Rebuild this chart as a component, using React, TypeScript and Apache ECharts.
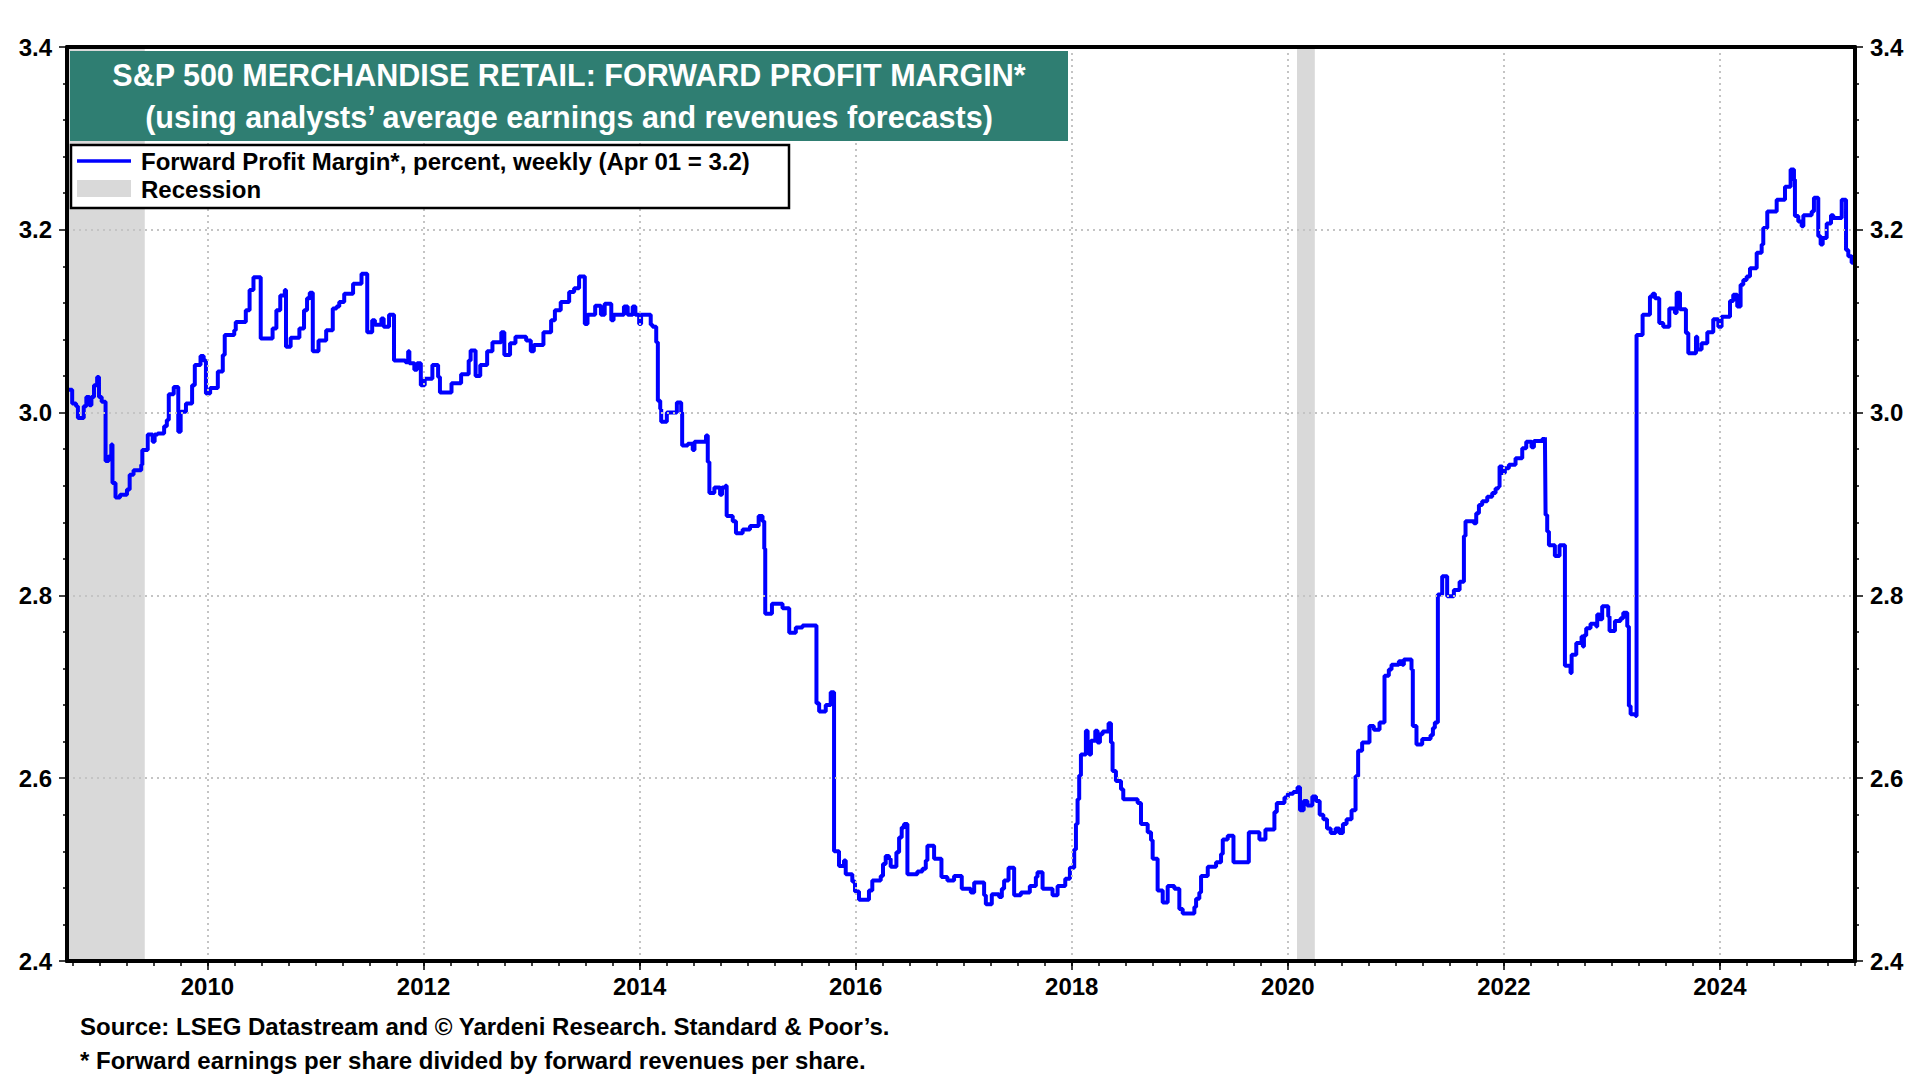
import { useEffect, useRef } from 'react'
import * as echarts from 'echarts'

// weekly observations, position given as fractional year (each point = start of a level)
const weeks = [
  2008.7, 2008.748, 2008.784, 2008.801, 2008.855, 2008.879, 2008.908, 2008.926, 2008.95, 2008.979,
  2008.996, 2009.021, 2009.057, 2009.085, 2009.11, 2009.121, 2009.149, 2009.191, 2009.255, 2009.28,
  2009.316, 2009.387, 2009.397, 2009.447, 2009.493, 2009.511, 2009.539, 2009.599, 2009.624, 2009.642,
  2009.688, 2009.73, 2009.752, 2009.801, 2009.858, 2009.883, 2009.936, 2009.965, 2009.986, 2010.025,
  2010.096, 2010.142, 2010.16, 2010.248, 2010.262, 2010.355, 2010.39, 2010.426, 2010.493, 2010.603,
  2010.638, 2010.674, 2010.716, 2010.727, 2010.77, 2010.851, 2010.894, 2010.922, 2010.947, 2010.975,
  2011.028, 2011.099, 2011.16, 2011.195, 2011.22, 2011.266, 2011.348, 2011.426, 2011.479, 2011.525,
  2011.55, 2011.61, 2011.631, 2011.681, 2011.727, 2011.833, 2011.858, 2011.869, 2011.915, 2011.94,
  2011.975, 2012.011, 2012.082, 2012.135, 2012.152, 2012.259, 2012.348, 2012.418, 2012.436, 2012.482,
  2012.525, 2012.589, 2012.638, 2012.72, 2012.748, 2012.801, 2012.851, 2012.95, 2012.993, 2013.021,
  2013.11, 2013.181, 2013.216, 2013.27, 2013.348, 2013.394, 2013.44, 2013.493, 2013.518, 2013.589,
  2013.642, 2013.677, 2013.738, 2013.759, 2013.855, 2013.89, 2013.936, 2013.961, 2013.996, 2014.014,
  2014.103, 2014.12, 2014.154, 2014.169, 2014.191, 2014.2, 2014.252, 2014.345, 2014.385, 2014.394,
  2014.446, 2014.492, 2014.508, 2014.615, 2014.631, 2014.646, 2014.692, 2014.745, 2014.763, 2014.794,
  2014.806, 2014.862, 2014.892, 2014.954, 2015.022, 2015.102, 2015.138, 2015.154, 2015.163, 2015.225,
  2015.323, 2015.385, 2015.446, 2015.508, 2015.637, 2015.662, 2015.723, 2015.769, 2015.8, 2015.846,
  2015.892, 2015.908, 2015.969, 2015.994, 2016.031, 2016.123, 2016.154, 2016.232, 2016.253, 2016.278,
  2016.309, 2016.324, 2016.377, 2016.402, 2016.426, 2016.448, 2016.479, 2016.571, 2016.618, 2016.649,
  2016.664, 2016.726, 2016.794, 2016.849, 2016.911, 2016.982, 2017.066, 2017.097, 2017.189, 2017.205,
  2017.26, 2017.328, 2017.353, 2017.374, 2017.415, 2017.467, 2017.529, 2017.612, 2017.668, 2017.683,
  2017.73, 2017.822, 2017.869, 2017.94, 2017.983, 2018.023, 2018.039, 2018.054, 2018.069, 2018.085,
  2018.131, 2018.147, 2018.162, 2018.178, 2018.218, 2018.239, 2018.261, 2018.286, 2018.341, 2018.363,
  2018.378, 2018.409, 2018.456, 2018.477, 2018.61, 2018.641, 2018.703, 2018.734, 2018.749, 2018.795,
  2018.842, 2018.888, 2018.95, 2018.996, 2019.027, 2019.135, 2019.151, 2019.181, 2019.197, 2019.259,
  2019.336, 2019.382, 2019.398, 2019.444, 2019.497, 2019.639, 2019.737, 2019.793, 2019.876, 2019.898,
  2019.969, 2020.0, 2020.05, 2020.09, 2020.113, 2020.147, 2020.181, 2020.227, 2020.261, 2020.295,
  2020.329, 2020.363, 2020.397, 2020.442, 2020.476, 2020.51, 2020.544, 2020.59, 2020.627, 2020.651,
  2020.688, 2020.756, 2020.796, 2020.849, 2020.895, 2020.935, 2020.96, 2021.028, 2021.059, 2021.074,
  2021.145, 2021.157, 2021.191, 2021.244, 2021.321, 2021.343, 2021.361, 2021.389, 2021.429, 2021.475,
  2021.537, 2021.59, 2021.63, 2021.645, 2021.722, 2021.744, 2021.769, 2021.799, 2021.846, 2021.892,
  2021.923, 2021.948, 2021.96, 2021.985, 2022.009, 2022.046, 2022.108, 2022.17, 2022.207, 2022.256,
  2022.278, 2022.355, 2022.38, 2022.386, 2022.401, 2022.417, 2022.472, 2022.515, 2022.565, 2022.617,
  2022.627, 2022.67, 2022.719, 2022.731, 2022.741, 2022.762, 2022.802, 2022.855, 2022.864, 2022.886,
  2022.91, 2022.966, 2022.978, 2023.028, 2023.08, 2023.105, 2023.142, 2023.157, 2023.173, 2023.219,
  2023.228, 2023.284, 2023.352, 2023.377, 2023.398, 2023.438, 2023.475, 2023.531, 2023.583, 2023.599,
  2023.63, 2023.685, 2023.707, 2023.778, 2023.79, 2023.83, 2023.883, 2023.938, 2023.985, 2024.015,
  2024.093, 2024.123, 2024.16, 2024.191, 2024.216, 2024.247, 2024.278, 2024.34, 2024.386, 2024.401,
  2024.438, 2024.525, 2024.602, 2024.654, 2024.685, 2024.694, 2024.725, 2024.756, 2024.772, 2024.849,
  2024.87, 2024.91, 2024.932, 2024.951, 2024.988, 2025.028, 2025.049, 2025.127, 2025.167, 2025.188,
  2025.219, 2025.235, 2025.25,
]

// forward profit margin, percent
const margin = [
  3.025, 3.01, 3.007, 2.994, 3.007, 3.017, 3.008, 3.017, 3.03, 3.039,
  3.017, 3.012, 2.947, 2.952, 2.965, 2.923, 2.907, 2.91, 2.916, 2.932,
  2.937, 2.943, 2.959, 2.976, 2.968, 2.976, 2.977, 2.985, 2.992, 3.02,
  3.028, 2.979, 3.001, 3.01, 3.03, 3.052, 3.062, 3.057, 3.021, 3.027,
  3.045, 3.063, 3.085, 3.09, 3.099, 3.112, 3.134, 3.148, 3.081, 3.092,
  3.112, 3.128, 3.134, 3.072, 3.082, 3.092, 3.112, 3.125, 3.131, 3.067,
  3.079, 3.09, 3.114, 3.116, 3.121, 3.13, 3.141, 3.152, 3.088, 3.101,
  3.096, 3.103, 3.094, 3.107, 3.057, 3.055, 3.067, 3.054, 3.047, 3.054,
  3.03, 3.037, 3.052, 3.039, 3.022, 3.032, 3.042, 3.057, 3.068, 3.04,
  3.052, 3.067, 3.077, 3.088, 3.063, 3.076, 3.083, 3.079, 3.067, 3.074,
  3.088, 3.101, 3.112, 3.121, 3.132, 3.136, 3.149, 3.097, 3.107, 3.117,
  3.107, 3.119, 3.101, 3.107, 3.116, 3.107, 3.116, 3.107, 3.097, 3.107,
  3.096, 3.094, 3.077, 3.013, 3.004, 2.99, 3.0, 3.011, 3.0, 2.964,
  2.966, 2.959, 2.968, 2.975, 2.946, 2.912, 2.918, 2.91, 2.918, 2.92,
  2.887, 2.881, 2.868, 2.872, 2.876, 2.887, 2.881, 2.851, 2.78, 2.791,
  2.786, 2.759, 2.765, 2.767, 2.682, 2.673, 2.68, 2.694, 2.52, 2.504,
  2.51, 2.495, 2.487, 2.476, 2.467, 2.477, 2.488, 2.493, 2.506, 2.515,
  2.512, 2.503, 2.519, 2.535, 2.546, 2.55, 2.495, 2.498, 2.501, 2.51,
  2.526, 2.512, 2.492, 2.488, 2.493, 2.479, 2.475, 2.486, 2.472, 2.462,
  2.473, 2.47, 2.479, 2.488, 2.502, 2.472, 2.475, 2.482, 2.492, 2.497,
  2.479, 2.472, 2.482, 2.49, 2.502, 2.522, 2.55, 2.577, 2.603, 2.626,
  2.652, 2.639, 2.626, 2.641, 2.652, 2.639, 2.648, 2.651, 2.66, 2.639,
  2.608, 2.597, 2.588, 2.577, 2.573, 2.55, 2.541, 2.532, 2.512, 2.477,
  2.464, 2.482, 2.479, 2.457, 2.452, 2.459, 2.468, 2.475, 2.493, 2.503,
  2.508, 2.517, 2.533, 2.537, 2.508, 2.541, 2.533, 2.544, 2.563, 2.573,
  2.579, 2.583, 2.585, 2.59, 2.565, 2.575, 2.57, 2.58, 2.575, 2.56,
  2.555, 2.545, 2.54, 2.545, 2.54, 2.55, 2.555, 2.565, 2.602, 2.63,
  2.639, 2.657, 2.653, 2.661, 2.712, 2.719, 2.724, 2.728, 2.724, 2.73,
  2.719, 2.657, 2.637, 2.643, 2.647, 2.655, 2.661, 2.801, 2.821, 2.799,
  2.806, 2.815, 2.865, 2.881, 2.879, 2.89, 2.899, 2.903, 2.908, 2.912,
  2.917, 2.919, 2.941, 2.934, 2.939, 2.943, 2.95, 2.961, 2.968, 2.962,
  2.969, 2.971, 2.973, 2.888, 2.87, 2.855, 2.843, 2.855, 2.723, 2.715,
  2.735, 2.748, 2.755, 2.744, 2.756, 2.764, 2.769, 2.766, 2.779, 2.774,
  2.788, 2.777, 2.761, 2.772, 2.775, 2.781, 2.766, 2.679, 2.67, 2.668,
  3.085, 3.107, 3.127, 3.13, 3.125, 3.098, 3.094, 3.114, 3.109, 3.131,
  3.113, 3.087, 3.065, 3.083, 3.069, 3.076, 3.088, 3.102, 3.094, 3.105,
  3.122, 3.129, 3.116, 3.14, 3.145, 3.149, 3.158, 3.175, 3.184, 3.202,
  3.22, 3.233, 3.247, 3.266, 3.255, 3.215, 3.209, 3.204, 3.216, 3.22,
  3.235, 3.193, 3.184, 3.191, 3.207, 3.216, 3.213, 3.233, 3.178, 3.171,
  3.164, 3.171, 3.171,
]

// recession periods (fractional years)
const recessions = [
  [2008.7, 2009.42],
  [2020.085, 2020.25],
]

const yearLabels = [2010, 2012, 2014, 2016, 2018, 2020, 2022, 2024]
const yTicks = [2.4, 2.6, 2.8, 3.0, 3.2, 3.4]

const X_MIN = 2008.7
const X_MAX = 2025.25

const quarterTicks: number[] = []
for (let q = 2008.75; q <= X_MAX + 1e-6; q += 0.25) quarterTicks.push(Math.round(q * 100) / 100)

const FONT = '"Liberation Sans", Arial, Helvetica, sans-serif'
const GRID_LINE = { color: '#c4c4c4', width: 2, type: [2, 4] as number[] }
const TICK = { color: '#000', width: 1.5 }
const AXIS_LINE = { show: true, onZero: false, lineStyle: { color: '#000', width: 4 } }
const LABEL = { color: '#000', fontSize: 24, fontWeight: 'bold' as const, fontFamily: FONT }

function yAxisFor(position: 'left' | 'right') {
  return {
    type: 'value',
    position,
    min: yTicks[0],
    max: yTicks[yTicks.length - 1],
    interval: 0.2,
    z: 4,
    axisLine: AXIS_LINE,
    axisTick: { show: true, length: 8, lineStyle: TICK },
    minorTick: { show: true, splitNumber: 5, length: 4, lineStyle: TICK },
    axisLabel: { ...LABEL, margin: 15, formatter: (v: number) => v.toFixed(1) },
    splitLine: { show: position === 'left', lineStyle: GRID_LINE },
  }
}

export default function App() {
  const chartRef = useRef<HTMLDivElement>(null)

  useEffect(() => {
    if (!chartRef.current) return
    const chart = echarts.init(chartRef.current, null, { renderer: 'svg' })

    const text = (t: string, x: number, y: number, size: number, fill = '#000', align = 'left') => ({
      type: 'text',
      x,
      y,
      z: 102,
      style: {
        text: t,
        fill,
        font: `bold ${size}px ${FONT}`,
        textAlign: align,
        textVerticalAlign: 'middle',
      },
    })

    chart.setOption({
      animation: false,
      backgroundColor: '#fff',
      textStyle: { fontFamily: FONT },
      grid: { left: 67, right: 65, top: 47, bottom: 119 },
      xAxis: [
        {
          type: 'value',
          min: X_MIN,
          max: X_MAX,
          interval: 2,
          z: 4,
          axisLine: AXIS_LINE,
          axisTick: { show: true, length: 9, lineStyle: TICK, customValues: yearLabels },
          axisLabel: {
            ...LABEL,
            margin: 13,
            customValues: yearLabels,
            formatter: (v: number) => (Number.isInteger(v) ? String(v) : ''),
          },
          splitLine: { show: true, lineStyle: GRID_LINE },
        },
        {
          type: 'value',
          position: 'bottom',
          min: X_MIN,
          max: X_MAX,
          interval: 0.25,
          z: 4,
          axisLine: AXIS_LINE,
          axisTick: { show: true, length: 5, lineStyle: TICK, customValues: quarterTicks },
          axisLabel: { show: false },
          splitLine: { show: false },
        },
        {
          type: 'value',
          position: 'top',
          min: X_MIN,
          max: X_MAX,
          z: 4,
          axisLine: AXIS_LINE,
          axisTick: { show: false },
          axisLabel: { show: false },
          splitLine: { show: false },
        },
      ],
      yAxis: [yAxisFor('left'), yAxisFor('right')],
      series: [
        {
          name: 'Forward Profit Margin*',
          type: 'line',
          xAxisIndex: 0,
          yAxisIndex: 0,
          step: 'end',
          symbol: 'none',
          z: 3,
          lineStyle: { color: '#0000ff', width: 4 },
          data: weeks.map((w, i) => [w, margin[i]]),
          markArea: {
            silent: true,
            itemStyle: { color: 'rgba(185,185,185,0.55)' },
            data: recessions.map(([a, b]) => [{ xAxis: a }, { xAxis: b }]),
          },
        },
      ],
      graphic: [
        {
          type: 'rect',
          z: 100,
          shape: { x: 70, y: 51, width: 998, height: 90 },
          style: { fill: '#2f7e72' },
        },
        text('S&P 500 MERCHANDISE RETAIL: FORWARD PROFIT MARGIN*', 569, 75, 30.5, '#fff', 'center'),
        text('(using analysts’ average earnings and revenues forecasts)', 569, 117, 30.5, '#fff', 'center'),
        {
          type: 'rect',
          z: 100,
          shape: { x: 71, y: 145, width: 718, height: 63 },
          style: { fill: '#fff', stroke: '#000', lineWidth: 2.5 },
        },
        {
          type: 'line',
          z: 101,
          shape: { x1: 77, y1: 161, x2: 131, y2: 161 },
          style: { stroke: '#0000ff', lineWidth: 3.5 },
        },
        {
          type: 'rect',
          z: 101,
          shape: { x: 77, y: 180, width: 54, height: 17 },
          style: { fill: '#d9d9d9' },
        },
        text('Forward Profit Margin*, percent, weekly (Apr 01 = 3.2)', 141, 161, 24),
        text('Recession', 141, 189, 24),
        text('Source: LSEG Datastream and © Yardeni Research. Standard & Poor’s.', 80, 1026, 24),
        text('* Forward earnings per share divided by forward revenues per share.', 80, 1060, 24),
      ],
    })

    return () => {
      chart.dispose()
    }
  }, [])

  return (
    <div
      ref={chartRef}
      style={{ position: 'fixed', left: 0, top: 0, width: 1920, height: 1080, background: '#fff' }}
    />
  )
}
